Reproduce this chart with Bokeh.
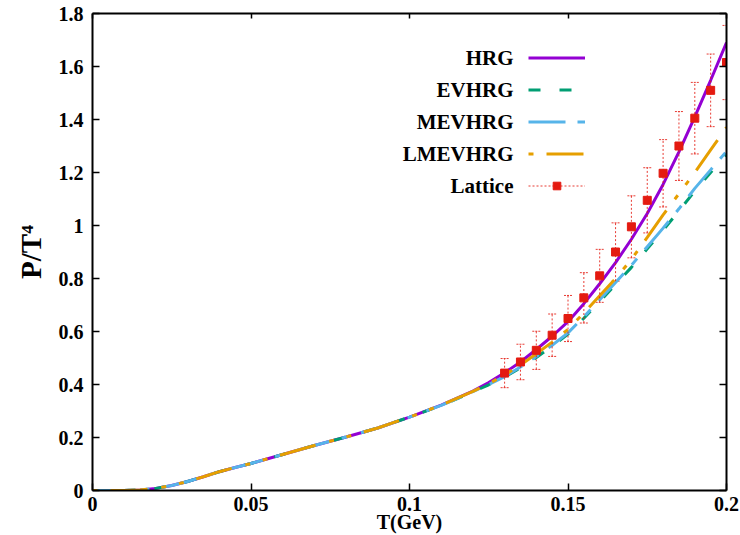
from bokeh.plotting import figure
from bokeh.models import (Range1d, LinearAxis, FixedTicker, Legend, LegendItem,
                          Label, Whisker, TeeHead, ColumnDataSource)
from bokeh.embed import file_html
from bokeh.resources import INLINE

# ---------------- data ----------------
T = [0, 0.005, 0.01, 0.015, 0.02, 0.025, 0.03, 0.035, 0.04, 0.045, 0.05, 0.06,
     0.07, 0.08, 0.09, 0.10, 0.11, 0.12, 0.125, 0.13, 0.135, 0.14, 0.145, 0.15,
     0.155, 0.16, 0.165, 0.17, 0.175, 0.18, 0.185, 0.19, 0.195, 0.2]

hrg = [0, 0, 0.0003, 0.002, 0.008, 0.019, 0.034, 0.052, 0.071, 0.087, 0.102, 0.136,
       0.17, 0.202, 0.236, 0.277, 0.322, 0.375, 0.407, 0.444, 0.485, 0.532, 0.582, 0.637,
       0.705, 0.78, 0.86, 0.948, 1.045, 1.155, 1.278, 1.41, 1.548, 1.69]

evhrg = [0, 0, 0.0003, 0.002, 0.008, 0.019, 0.034, 0.052, 0.071, 0.087, 0.102, 0.136,
         0.17, 0.202, 0.236, 0.277, 0.321, 0.372, 0.399, 0.428, 0.463, 0.502, 0.544, 0.59,
         0.65, 0.713, 0.778, 0.842, 0.912, 0.982, 1.055, 1.13, 1.2, 1.27]

mevhrg = [0, 0, 0.0003, 0.002, 0.008, 0.019, 0.034, 0.052, 0.071, 0.087, 0.102, 0.136,
          0.17, 0.202, 0.236, 0.277, 0.321, 0.373, 0.40, 0.43, 0.466, 0.506, 0.548, 0.595,
          0.655, 0.72, 0.785, 0.85, 0.92, 0.99, 1.063, 1.14, 1.21, 1.28]

lmevhrg = [0, 0, 0.0003, 0.002, 0.008, 0.019, 0.034, 0.052, 0.071, 0.087, 0.102, 0.136,
           0.17, 0.202, 0.236, 0.277, 0.322, 0.374, 0.403, 0.436, 0.473, 0.516, 0.56, 0.608,
           0.67, 0.735, 0.80, 0.872, 0.955, 1.04, 1.12, 1.20, 1.285, 1.37]

lat_T = [0.13, 0.135, 0.14, 0.145, 0.15, 0.155, 0.16, 0.165, 0.17, 0.175, 0.18,
         0.185, 0.19, 0.195, 0.2]
lat_P = [0.443, 0.485, 0.529, 0.586, 0.649, 0.727, 0.81, 0.90, 0.995, 1.095, 1.197,
         1.30, 1.405, 1.51, 1.615]
lat_err = [0.055, 0.067, 0.072, 0.08, 0.087, 0.095, 0.10, 0.11, 0.117, 0.123, 0.127,
           0.13, 0.135, 0.137, 0.14]

x_ticks = [0, 0.05, 0.1, 0.15, 0.2]
x_tick_labels = ["0", "0.05", "0.1", "0.15", "0.2"]
y_ticks = [0, 0.2, 0.4, 0.6, 0.8, 1.0, 1.2, 1.4, 1.6, 1.8]
y_tick_labels = ["0", "0.2", "0.4", "0.6", "0.8", "1", "1.2", "1.4", "1.6", "1.8"]

series_names = ["HRG", "EVHRG", "MEVHRG", "LMEVHRG", "Lattice"]
x_title = "T(GeV)"
y_title = "P/T\u2074"

# ---------------- styles ----------------
FONT = "Liberation Serif"
C_HRG = "#9400D3"
C_EV = "#009E73"
C_MEV = "#56B4E9"
C_LMEV = "#E69F00"
C_LAT = "#E41A10"

p = figure(width=740, height=535, output_backend="svg", toolbar_location=None,
           x_range=Range1d(0, 0.2), y_range=Range1d(0, 1.8),
           min_border_left=92, min_border_right=14, min_border_top=13,
           min_border_bottom=20, background_fill_color="white",
           border_fill_color="white", outline_line_color=None)
p.grid.visible = False

# curves
r_hrg = p.line(T, hrg, line_color=C_HRG, line_width=3)
r_ev = p.line(T, evhrg, line_color=C_EV, line_width=3, line_dash="12 19")
r_mev = p.line(T, mevhrg, line_color=C_MEV, line_width=3, line_dash="37 12 8 12")
r_lmev = p.line(T, lmevhrg, line_color=C_LMEV, line_width=3, line_dash="5 13 37 14 5 13")

# lattice with error bars
lat_lo = [a - b for a, b in zip(lat_P, lat_err)]
lat_hi = [a + b for a, b in zip(lat_P, lat_err)]
src = ColumnDataSource(dict(x=lat_T, y=lat_P, lo=lat_lo, hi=lat_hi))
r_err = p.segment(x0="x", y0="lo", x1="x", y1="hi", source=src,
                  line_color=C_LAT, line_width=1, line_dash="2 2", line_alpha=0.85)
wh = Whisker(base="x", upper="hi", lower="lo", source=src, line_alpha=0,
             upper_head=TeeHead(size=8, line_color=C_LAT, line_width=1, line_dash="2 1", line_alpha=0.85),
             lower_head=TeeHead(size=8, line_color=C_LAT, line_width=1, line_dash="2 1", line_alpha=0.85))
p.add_layout(wh)
r_lat = p.scatter(x="x", y="y", source=src, marker="square", size=8,
                  fill_color=C_LAT, line_color=C_LAT)

# axes
def style_axis(ax, labels=True, tick_in=7):
    ax.axis_line_width = 2
    ax.axis_line_color = "black"
    ax.major_tick_in = tick_in
    ax.major_tick_out = 0
    ax.major_tick_line_width = 1.5
    ax.minor_tick_line_color = None
    if labels:
        ax.major_label_text_font = FONT
        ax.major_label_text_font_style = "bold"
        ax.major_label_text_font_size = "20px"
        ax.major_label_text_color = "black"
    else:
        ax.major_label_text_color = None
        ax.major_label_text_font_size = "1px"
        ax.major_label_standoff = 0

xa = p.xaxis[0]
xa.ticker = FixedTicker(ticks=x_ticks)
xa.major_label_overrides = {t: l for t, l in zip(x_ticks, x_tick_labels)}
style_axis(xa)
xa.major_label_standoff = 6
xa.axis_label = x_title
xa.axis_label_text_font = FONT
xa.axis_label_text_font_style = "bold"
xa.axis_label_text_font_size = "20px"
xa.axis_label_standoff = -3
xa.axis_label_text_color = "black"

ya = p.yaxis[0]
ya.ticker = FixedTicker(ticks=y_ticks)
ya.major_label_overrides = {t: l for t, l in zip(y_ticks, y_tick_labels)}
style_axis(ya)
ya.major_label_standoff = 9
ya.axis_label = y_title
ya.axis_label_text_font = FONT
ya.axis_label_text_font_style = "bold"
ya.axis_label_text_font_size = "29px"
ya.axis_label_standoff = 9
ya.axis_label_text_color = "black"

ra = LinearAxis(ticker=FixedTicker(ticks=y_ticks))
style_axis(ra, labels=False)
p.add_layout(ra, "right")
ta = LinearAxis(ticker=FixedTicker(ticks=x_ticks))
style_axis(ta, labels=False, tick_in=5)
p.add_layout(ta, "above")

# legend: glyph samples via Legend, texts right-aligned via Labels
legend = Legend(items=[LegendItem(label=" ", renderers=[r]) for r in
                       [r_hrg, r_ev, r_mev, r_lmev]] +
                      [LegendItem(label=" ", renderers=[r_err, r_lat])],
                location=(436, 289))
legend.glyph_width = 57
legend.glyph_height = 19
legend.label_height = 32
legend.label_width = 1
legend.label_standoff = 0
legend.label_text_font_size = "1px"
legend.label_text_color = None
legend.spacing = 0
legend.padding = 0
legend.margin = 0
legend.border_line_color = None
legend.background_fill_alpha = 0
p.add_layout(legend)

row_y = [433, 401, 369, 337, 305]
for name, yy in zip(series_names, row_y):
    p.add_layout(Label(x=421, y=yy, x_units="screen", y_units="screen", text=name,
                       text_align="right", text_baseline="middle", text_font=FONT,
                       text_font_style="bold", text_font_size="21px", text_color="black"))

open("out.html", "w").write(file_html(p, INLINE))
